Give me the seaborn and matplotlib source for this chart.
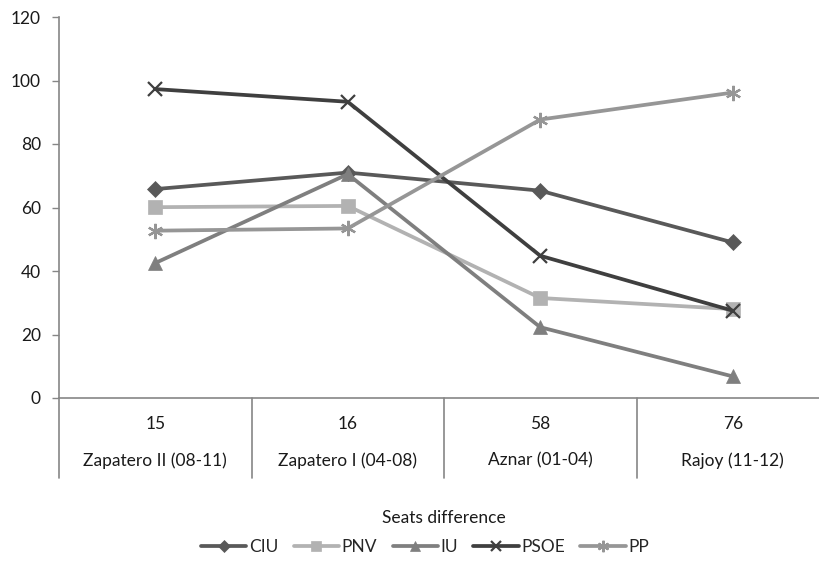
import pandas as pd
import matplotlib.pyplot as plt
import matplotlib.transforms as mtransforms
import seaborn as sns

# categories on the x axis (two-level labels)
seats = ["15", "16", "58", "76"]
governments = ["Zapatero II (08-11)", "Zapatero I (04-08)", "Aznar (01-04)", "Rajoy (11-12)"]

# series values
ciu = [65.8, 71.0, 65.3, 49.0]
pnv = [60.1, 60.5, 31.5, 28.0]
iu = [42.5, 70.5, 22.3, 6.8]
psoe = [97.3, 93.3, 44.8, 27.5]
pp = [52.7, 53.4, 87.7, 96.2]

parties = ["CIU", "PNV", "IU", "PSOE", "PP"]
series = [ciu, pnv, iu, psoe, pp]

colors = {"CIU": "#595959", "PNV": "#b2b2b2", "IU": "#7f7f7f",
          "PSOE": "#3f3f3f", "PP": "#969696"}
markers = {"CIU": "D", "PNV": "s", "IU": "^", "PSOE": "x", "PP": (6, 2, 0)}
msizes = {"CIU": 8, "PNV": 10, "IU": 10, "PSOE": 10, "PP": 11}

rows = []
for party, vals in zip(parties, series):
    for i, v in enumerate(vals):
        rows.append({"pos": i, "value": v, "party": party})
df = pd.DataFrame(rows)

sns.set_theme(style="white")
plt.rcParams["font.family"] = ["Lato", "DejaVu Sans"]

fig = plt.figure(figsize=(8.19, 5.67), dpi=100)
ax = fig.add_axes([59 / 819, 169 / 567, 770 / 819, 381 / 567])

sns.lineplot(data=df, x="pos", y="value", hue="party", hue_order=parties,
             palette=colors, linewidth=2.7, legend=False, ax=ax)

for line, party in zip(ax.lines, parties):
    line.set_marker(markers[party])
    line.set_markeredgecolor(colors[party])
    line.set_markerfacecolor(colors[party])
    line.set_markersize(msizes[party])
    line.set_markeredgewidth(1.6 if party in ("PSOE", "PP") else 0.5)
    line.set_label(party)

ax.set_xlim(-0.5, 3.5)
ax.set_ylim(0, 120)
ax.set_yticks(range(0, 121, 20))
ax.tick_params(axis="y", left=True, length=5, width=1, color="#868686",
               labelsize=12.5, labelcolor="#1a1a1a", pad=8)
ax.set_xticks([])
ax.set_xlabel("")
ax.set_ylabel("")

for side in ("top", "right"):
    ax.spines[side].set_visible(False)
for side in ("left", "bottom"):
    ax.spines[side].set_color("#868686")
    ax.spines[side].set_linewidth(1.2)

# two-level category labels with separators
trans = mtransforms.blended_transform_factory(ax.transData, ax.transAxes)
for i in range(len(seats)):
    ax.text(i, -0.068, seats[i], transform=trans, ha="center", va="center",
            fontsize=12.5, color="#1a1a1a")
    ax.text(i, -0.165, governments[i], transform=trans, ha="center", va="center",
            fontsize=12.5, color="#1a1a1a")
for x in [-0.5, 0.5, 1.5, 2.5]:
    ax.plot([x, x], [0, -0.21], transform=trans, color="#868686",
            linewidth=1.2, clip_on=False)

fig.text(444 / 819, 1 - 518 / 567, "Seats difference", ha="center", va="center",
         fontsize=12.5, color="#1a1a1a")

fig.legend(handles=ax.lines[:5], labels=parties, loc="center",
           bbox_to_anchor=(425 / 819, 1 - 547 / 567), ncol=5, frameon=False,
           fontsize=12.5, handlelength=2.6, columnspacing=0.9, handletextpad=0.15,
           markerscale=0.75)

fig.savefig("out.png", dpi=100, facecolor="white")
